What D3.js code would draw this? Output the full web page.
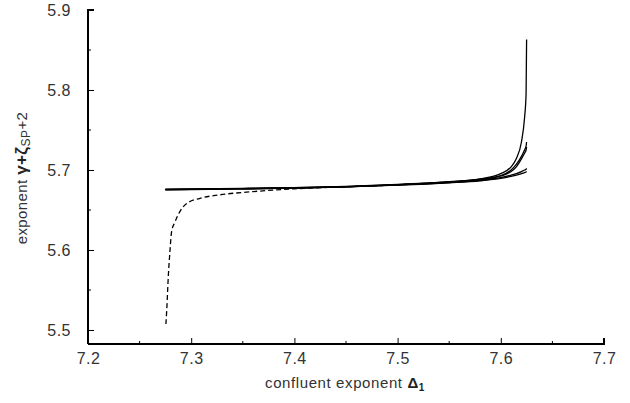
<!DOCTYPE html>
<html>
<head>
<meta charset="utf-8">
<script src="https://cdn.jsdelivr.net/npm/d3@7"></script>
<style>
  body { margin: 0; background: #fff; }
  svg text { font-family: "Liberation Sans", "DejaVu Sans", sans-serif; fill: #333; }
</style>
</head>
<body>
<svg id="chart" width="630" height="403"></svg>
<script>
// x positions of the solid curves
var solidX = [7.275, 7.3, 7.35, 7.4, 7.45, 7.5, 7.55, 7.58, 7.6, 7.61, 7.615, 7.62, 7.623, 7.6245, 7.625];
var solidA = [5.676, 5.6763, 5.677, 5.678, 5.6795, 5.682, 5.6855, 5.689, 5.6955, 5.704, 5.714, 5.735, 5.765, 5.795, 5.863];
var solidB = [5.6758, 5.676, 5.6768, 5.6778, 5.6793, 5.6818, 5.685, 5.6885, 5.693, 5.7, 5.707, 5.717, 5.725, 5.73, 5.735];
var solidC = [5.6755, 5.6758, 5.6766, 5.6776, 5.679, 5.6815, 5.6848, 5.688, 5.6925, 5.698, 5.704, 5.714, 5.721, 5.725, 5.729];
var solidD = [5.6755, 5.6757, 5.6765, 5.6775, 5.679, 5.6813, 5.6843, 5.687, 5.6905, 5.6935, 5.6955, 5.698, 5.7, 5.701, 5.702];
var solidE = [5.6752, 5.6755, 5.6763, 5.6773, 5.6788, 5.681, 5.684, 5.6865, 5.6895, 5.692, 5.6935, 5.6955, 5.6968, 5.6975, 5.698];

// dashed curve
var dashX = [7.2755, 7.2763, 7.2778, 7.2795, 7.281, 7.2843, 7.289, 7.2956, 7.3085, 7.328, 7.36, 7.4, 7.45, 7.5, 7.55, 7.6];
var dashY = [5.5075, 5.525, 5.5667, 5.6, 5.623, 5.635, 5.648, 5.658, 5.6646, 5.669, 5.673, 5.6765, 5.679, 5.6815, 5.685, 5.69];

var xTicks = [7.2, 7.3, 7.4, 7.5, 7.6, 7.7];
var xMinor = [7.25, 7.35, 7.45, 7.55, 7.65];
var yTicks = [5.5, 5.6, 5.7, 5.8, 5.9];
var yMinor = [5.55, 5.65, 5.75, 5.85];

var svg = d3.select('#chart');

var x = d3.scaleLinear().domain([7.2, 7.7]).range([88, 604]);
var y = d3.scaleLinear().domain([5.5, 5.9]).range([330, 10]);
var yBottom = 344;

var line = d3.line()
	.x(function(d) { return x(d[0]); })
	.y(function(d) { return y(d[1]); })
	.curve(d3.curveMonotoneX);

// axes
var xAxis = d3.axisBottom(x).tickValues(xTicks).tickSize(-6).tickFormat(d3.format('.1f'));
var gx = svg.append('g').attr('transform', 'translate(0,' + yBottom + ')').call(xAxis);
gx.select('.domain').attr('d', 'M' + x(7.2) + ',0H' + x(7.7) + 'V-6').attr('stroke-width', 2).attr('fill', 'none');
gx.selectAll('.tick line').attr('stroke-width', 1);
gx.selectAll('.tick text').attr('y', 9).attr('font-size', 16).attr('letter-spacing', 0.5).attr('fill', '#555');
gx.selectAll('.minor').data(xMinor).enter().append('line')
	.attr('x1', function(d) { return x(d); }).attr('x2', function(d) { return x(d); })
	.attr('y1', 0).attr('y2', -3).attr('stroke', '#000');

var yAxis = d3.axisLeft(y).tickValues(yTicks).tickSize(-6).tickFormat(d3.format('.1f'));
var gy = svg.append('g').attr('transform', 'translate(' + x(7.2) + ',0)').call(yAxis);
gy.select('.domain').attr('d', 'M6,' + y(5.9) + 'H0V' + yBottom).attr('stroke-width', 2).attr('fill', 'none');
gy.selectAll('.tick line').attr('stroke-width', 1);
gy.selectAll('.tick text').attr('x', -17).attr('font-size', 16).attr('letter-spacing', 0.5).attr('fill', '#555');
gy.selectAll('.minor').data(yMinor).enter().append('line')
	.attr('y1', function(d) { return y(d); }).attr('y2', function(d) { return y(d); })
	.attr('x1', 0).attr('x2', 3).attr('stroke', '#000');

// solid curves
var solids = [solidA, solidB, solidC, solidD, solidE];
solids.forEach(function(s) {
	svg.append('path')
		.datum(solidX.map(function(v, i) { return [v, s[i]]; }))
		.attr('d', line)
		.attr('fill', 'none')
		.attr('stroke', '#000')
		.attr('stroke-width', 1.3);
});

// dashed curve
svg.append('path')
	.datum(dashX.map(function(v, i) { return [v, dashY[i]]; }))
	.attr('d', line)
	.attr('fill', 'none')
	.attr('stroke', '#000')
	.attr('stroke-width', 1.3)
	.attr('stroke-dasharray', '5,3');

// axis titles
var xt = svg.append('text')
	.attr('x', 345).attr('y', 388)
	.attr('text-anchor', 'middle')
	.attr('font-size', 15)
	.attr('letter-spacing', 0.6)
	.attr('fill', '#444');
xt.append('tspan').text('confluent exponent ');
xt.append('tspan').attr('font-weight', 'bold').attr('fill', '#222').text('Δ');
xt.append('tspan').attr('font-weight', 'bold').attr('font-size', 10).attr('dy', 3).attr('fill', '#222').text('1');

var yt = svg.append('text')
	.attr('transform', 'translate(27,178) rotate(-90)')
	.attr('text-anchor', 'middle')
	.attr('font-size', 15)
	.attr('letter-spacing', 0.4)
	.attr('fill', '#444');
yt.append('tspan').text('exponent ');
yt.append('tspan').attr('font-weight', 'bold').attr('font-size', 17).attr('fill', '#222').text('γ+ζ');
yt.append('tspan').attr('font-size', 12).attr('dy', 3).text('SP');
yt.append('tspan').attr('dy', -3).text('+2');
</script>
</body>
</html>
